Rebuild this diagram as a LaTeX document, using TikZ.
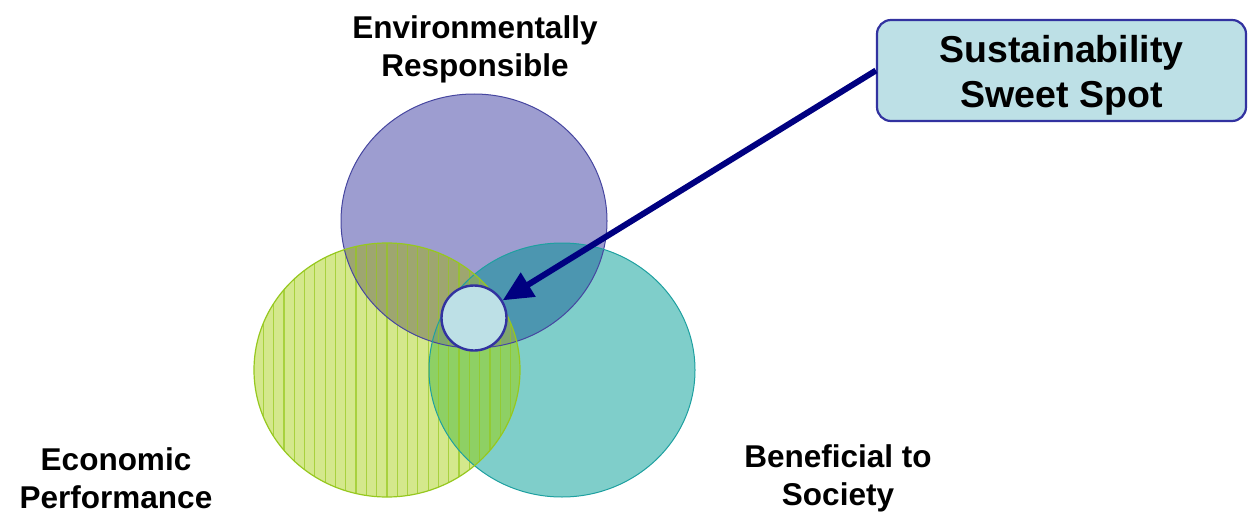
\documentclass[tikz,border=0pt]{standalone}
\usepackage{fontspec}
\setmainfont{Liberation Sans}
\usetikzlibrary{arrows.meta}
\definecolor{purpC}{RGB}{157,157,208}
\definecolor{purpB}{RGB}{70,70,160}
\definecolor{greenC}{RGB}{212,232,140}
\definecolor{greenB}{RGB}{150,200,30}
\definecolor{tealC}{RGB}{127,206,202}
\definecolor{tealB}{RGB}{30,160,160}
\definecolor{pgC}{RGB}{158,166,112}
\definecolor{ptC}{RGB}{76,150,176}
\definecolor{gtC}{RGB}{142,208,100}
\definecolor{allC}{RGB}{128,166,110}
\definecolor{spotC}{RGB}{189,224,230}
\definecolor{spotB}{RGB}{50,50,160}
\definecolor{arrowC}{RGB}{0,0,128}
\tikzset{
  lbl/.style={font=\fontsize{31.5}{38}\selectfont\bfseries, align=center, inner sep=0pt},
  boxstyle/.style={draw=spotB, line width=2.2pt, fill=spotC, rounded corners=14pt,
    minimum width=369pt, minimum height=101pt, inner sep=0pt,
    font=\fontsize{37.5}{45}\selectfont\bfseries},
  spotstyle/.style={circle, draw=spotB, line width=2.4pt, fill=spotC, minimum size=65pt, inner sep=0pt},
  stripe/.style={draw=greenB, line width=1.2pt, opacity=0.7},
  arr/.style={draw=arrowC, line width=6pt, -{Triangle[length=30pt,width=27pt]}}
}
\begin{document}
\begin{tikzpicture}[x=1pt,y=-1pt]
\useasboundingbox (0,0) rectangle (1248,519);
% base fills
\fill[purpC] (474,221) ellipse [x radius=133pt, y radius=127pt];
\fill[tealC] (562,370) ellipse [x radius=133pt, y radius=127pt];
\fill[greenC] (387,370) ellipse [x radius=133pt, y radius=127pt];
% pairwise overlaps
\begin{scope}
  \clip (474,221) ellipse [x radius=133pt, y radius=127pt];
  \fill[pgC] (387,370) ellipse [x radius=133pt, y radius=127pt];
  \fill[ptC] (562,370) ellipse [x radius=133pt, y radius=127pt];
\end{scope}
\begin{scope}
  \clip (387,370) ellipse [x radius=133pt, y radius=127pt];
  \fill[gtC] (562,370) ellipse [x radius=133pt, y radius=127pt];
  \clip (474,221) ellipse [x radius=133pt, y radius=127pt];
  \fill[allC] (562,370) ellipse [x radius=133pt, y radius=127pt];
\end{scope}
% stripes of the green circle
\begin{scope}
  \clip (387,370) ellipse [x radius=133pt, y radius=127pt];
  \foreach \i in {0,...,25} \draw[stripe] (263.3+10.3*\i,235) -- (263.3+10.3*\i,505);
\end{scope}
% outlines
\draw[purpB, line width=1pt] (474,221) ellipse [x radius=133pt, y radius=127pt];
\draw[tealB, line width=1pt] (562,370) ellipse [x radius=133pt, y radius=127pt];
\draw[greenB, line width=1.2pt] (387,370) ellipse [x radius=133pt, y radius=127pt];
% labels
\node[lbl] (env) at (475,49) {Environmentally\\Responsible};
\node[lbl] (eco) at (116,478) {Economic\\Performance};
\node[lbl] (soc) at (838,478) {Beneficial to\\Society};
% sweet spot
\node[spotstyle] (spot) at (474,318) {};
\node[boxstyle] (box) at (1061.5,70.5) {\raisebox{-11pt}[0pt][0pt]{\parbox{360pt}{\centering Sustainability\\Sweet Spot}}};
\draw[arr] (box.west) -- (spot);
\end{tikzpicture}
\end{document}
